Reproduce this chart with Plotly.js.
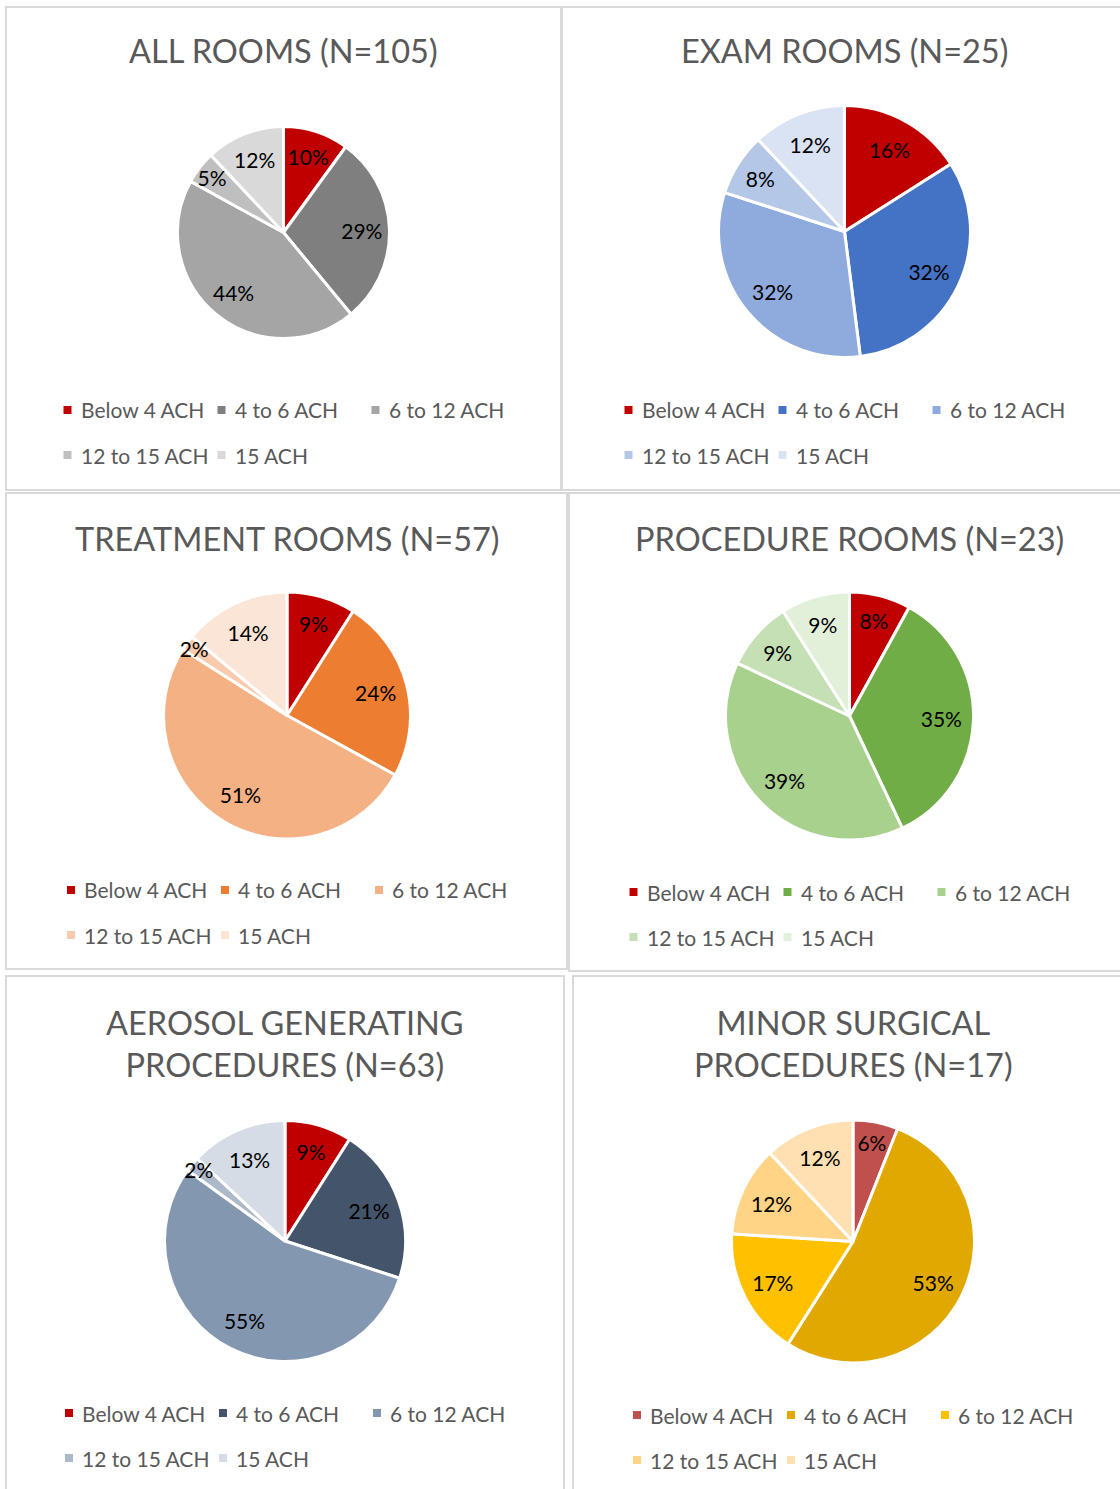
<!DOCTYPE html>
<html>
<head>
<meta charset="utf-8">
<script src="https://cdn.plot.ly/plotly-3.0.1.min.js"></script>
<style>
html, body { margin: 0; padding: 0; background: #ffffff; }
#chart { width: 1120px; height: 1489px; }
</style>
</head>
<body>
<div id="chart"></div>
<script>
// ---------- DATA ----------
const categories = ['Below 4 ACH', '4 to 6 ACH', '6 to 12 ACH', '12 to 15 ACH', '15 ACH'];
const panelTitles = [
  'ALL ROOMS (N=105)',
  'EXAM ROOMS (N=25)',
  'TREATMENT ROOMS (N=57)',
  'PROCEDURE ROOMS (N=23)',
  'AEROSOL GENERATING<br>PROCEDURES (N=63)',
  'MINOR SURGICAL<br>PROCEDURES (N=17)'
];
const allRooms          = [10, 29, 44, 5, 12];
const examRooms         = [16, 32, 32, 8, 12];
const treatmentRooms    = [9, 24, 51, 2, 14];
const procedureRooms    = [8, 35, 39, 9, 9];
const aerosolProcedures = [9, 21, 55, 2, 13];
const minorSurgical     = [6, 53, 17, 12, 12];

// ---------- STYLES ----------
const colorsAll       = ['#C00000', '#7F7F7F', '#A5A5A5', '#BFBFBF', '#D9D9D9'];
const colorsExam      = ['#C00000', '#4472C4', '#8FAADC', '#B4C7E7', '#DAE3F3'];
const colorsTreatment = ['#C00000', '#ED7D31', '#F4B183', '#F8CBAD', '#FBE5D6'];
const colorsProcedure = ['#C00000', '#70AD47', '#A9D18E', '#C5E0B4', '#E2F0D9'];
const colorsAerosol   = ['#C00000', '#44546A', '#8497B0', '#ADB9CA', '#D6DCE5'];
const colorsMinor     = ['#C0504D', '#E0A800', '#FFC000', '#FFD486', '#FFE0B2'];

const seriesList = [allRooms, examRooms, treatmentRooms, procedureRooms, aerosolProcedures, minorSurgical];
const colorList  = [colorsAll, colorsExam, colorsTreatment, colorsProcedure, colorsAerosol, colorsMinor];

// ---------- LAYOUT (page pixels) ----------
const W = 1120, H = 1489;
const FONT = 'Lato, "Open Sans", sans-serif';
const panels = [
  {box: [6, 7, 561, 490],      cx: 283.5, cy: 232.5,  r: 104.5, titleY: 51,   legY: 410},
  {box: [562, 7, 1130, 490],   cx: 844.5, cy: 231.5,  r: 124.5, titleY: 51,   legY: 410},
  {box: [6, 493, 567, 969],    cx: 287,   cy: 715.5,  r: 122,   titleY: 538,  legY: 890},
  {box: [569, 493, 1130, 971], cx: 849.5, cy: 716,    r: 122.5, titleY: 538,  legY: 892},
  {box: [6, 976, 564, 1495],   cx: 285,   cy: 1241,   r: 119,   titleY: 1043, legY: 1413},
  {box: [573, 976, 1130, 1495],cx: 853,   cy: 1241.5, r: 120,   titleY: 1043, legY: 1415}
];
const px = x => x / W;
const py = y => 1 - y / H;

const traces = [];
const shapes = [];
const annotations = [];

panels.forEach((p, k) => {
  const vals = seriesList[k];
  const cols = colorList[k];
  const R = p.r + 1.5;
  // visible pie
  traces.push({
    type: 'pie', labels: categories, values: vals, sort: false,
    direction: 'clockwise', rotation: 0,
    marker: {colors: cols, line: {color: '#ffffff', width: 3}},
    textinfo: 'none', hoverinfo: 'label+value',
    domain: {x: [px(p.cx - R), px(p.cx + R)], y: [py(p.cy + R), py(p.cy - R)]},
    showlegend: false
  });
  // label ring (transparent) for data-label placement
  traces.push({
    type: 'pie', labels: categories, values: vals, sort: false,
    direction: 'clockwise', rotation: 0, hole: 0.5,
    marker: {colors: categories.map(() => 'rgba(0,0,0,0)'), line: {width: 0}},
    texttemplate: '%{value}%', textposition: 'inside',
    insidetextorientation: 'horizontal',
    textfont: {family: FONT, size: 21, color: '#000000'},
    insidetextfont: {family: FONT, size: 21, color: '#000000'},
    hoverinfo: 'skip',
    domain: {x: [px(p.cx - p.r), px(p.cx + p.r)], y: [py(p.cy + p.r), py(p.cy - p.r)]},
    showlegend: false
  });
  // panel border
  shapes.push({
    type: 'rect', xref: 'paper', yref: 'paper',
    x0: px(p.box[0]), x1: px(p.box[2]), y0: py(p.box[3]), y1: py(p.box[1]),
    line: {color: '#D9D9D9', width: 2}, fillcolor: 'rgba(0,0,0,0)'
  });
  // title
  annotations.push({
    xref: 'paper', yref: 'paper', x: px(p.cx), y: py(p.titleY),
    xanchor: 'center', yanchor: 'middle', showarrow: false,
    text: panelTitles[k],
    font: {family: FONT, size: 32.5, color: '#595959'}
  });
  // legend
  categories.forEach((c, i) => {
    const col = i % 3, row = Math.floor(i / 3);
    const sx = p.cx - 216 + col * 154;
    const sy = p.legY + row * 45;
    shapes.push({
      type: 'rect', xref: 'paper', yref: 'paper',
      x0: px(sx - 4), x1: px(sx + 4), y0: py(sy + 4), y1: py(sy - 4),
      line: {width: 0}, fillcolor: cols[i]
    });
    annotations.push({
      xref: 'paper', yref: 'paper', x: px(sx + 11), y: py(sy),
      xanchor: 'left', yanchor: 'middle', showarrow: false,
      text: c, font: {family: FONT, size: 21, color: '#595959'}
    });
  });
});

const layout = {
  width: W, height: H,
  margin: {l: 0, r: 0, t: 0, b: 0},
  paper_bgcolor: '#ffffff', plot_bgcolor: '#ffffff',
  showlegend: false,
  font: {family: FONT},
  uniformtext: {mode: 'show', minsize: 21},
  shapes: shapes,
  annotations: annotations
};

Plotly.newPlot('chart', traces, layout, {displayModeBar: false, staticPlot: true});
</script>
</body>
</html>
